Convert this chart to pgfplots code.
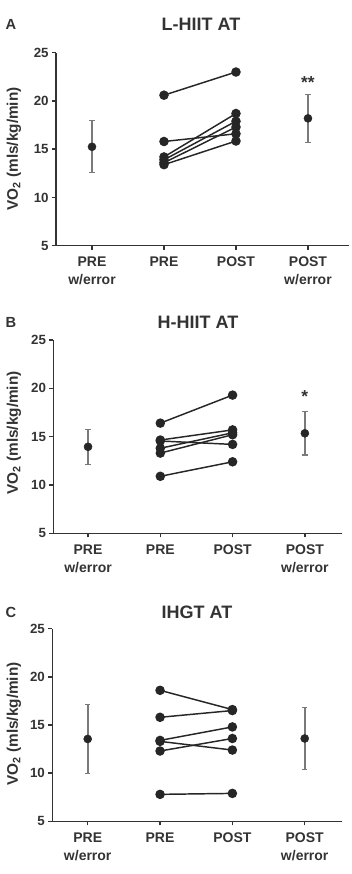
\documentclass[border=0pt]{standalone}
\usepackage{pgfplots}
\pgfplotsset{compat=1.18}
\usepackage{fontspec}
\setmainfont{Liberation Sans}
\definecolor{ink}{HTML}{262626}
\definecolor{axisgray}{HTML}{333333}
\definecolor{errgray}{HTML}{7A7A7A}

\pgfplotsset{
  vo2panel/.style={
    scale only axis,
    anchor=south west,
    axis lines=left,
    axis line style={axisgray, line width=1.1pt, -},
    ymin=5, ymax=25,
    ytick={5,10,15,20,25},
    xtick={0,1,2,3},
    xticklabels={{PRE\\w/error},PRE,POST,{POST\\w/error}},
    tick align=outside,
    major tick length=3pt,
    tick style={axisgray, line width=1.1pt},
    x tick label style={align=center, font=\bfseries\fontsize{10.5}{13.5}\selectfont, text=axisgray, yshift=-2pt},
    y tick label style={font=\bfseries\fontsize{10}{11}\selectfont, text=axisgray, xshift=1pt},
    /pgf/number format/assume math mode=true,
    clip=false,
  },
  pair/.style={ink, line width=1.1pt, mark=*, mark size=3pt, mark options={fill=ink, draw=ink}},
  meanbar/.style={ink, only marks, mark=*, mark size=3pt, mark options={fill=ink, draw=ink},
    error bars/.cd, y dir=both, y explicit,
    error bar style={errgray, line width=1.3pt},
    error mark options={errgray, line width=0.9pt, mark size=2pt, rotate=90}},
}

\begin{document}
\begin{tikzpicture}
% fixed page frame
\path (0pt,0pt) rectangle (264pt,655.5pt);

% ---------- A: L-HIIT ----------
\begin{axis}[vo2panel, at={(42pt,471.2pt)}, width=219.75pt, height=144.75pt, xmin=-0.5, xmax=3.57]
\addplot[meanbar] coordinates {(0,15.25) +- (0,2.7)};
\addplot[meanbar] coordinates {(3,18.2) +- (0,2.5)};
\addplot[pair] coordinates {(1,20.6) (2,23.0)};
\addplot[pair] coordinates {(1,15.8) (2,16.6)};
\addplot[pair] coordinates {(1,14.2) (2,18.7)};
\addplot[pair] coordinates {(1,13.9) (2,17.9)};
\addplot[pair] coordinates {(1,13.6) (2,17.3)};
\addplot[pair] coordinates {(1,13.4) (2,15.85)};
\node[font=\bfseries\fontsize{13}{13}\selectfont, text=axisgray] at (axis cs:3,21.9) {**};
\end{axis}

% ---------- B: H-HIIT ----------
\begin{axis}[vo2panel, at={(40pt,255.5pt)}, width=216.3pt, height=145pt, xmin=-0.48, xmax=3.51]
\addplot[meanbar] coordinates {(0,13.95) +- (0,1.8)};
\addplot[meanbar] coordinates {(3,15.35) +- (0,2.25)};
\addplot[pair] coordinates {(1,16.4) (2,19.3)};
\addplot[pair] coordinates {(1,14.65) (2,15.7)};
\addplot[pair] coordinates {(1,14.55) (2,14.2)};
\addplot[pair] coordinates {(1,13.8) (2,15.4)};
\addplot[pair] coordinates {(1,13.3) (2,15.2)};
\addplot[pair] coordinates {(1,10.9) (2,12.4)};
\node[font=\bfseries\fontsize{13}{13}\selectfont, text=axisgray] at (axis cs:3,19.1) {*};
\end{axis}

% ---------- C: IHGT ----------
\begin{axis}[vo2panel, at={(39.2pt,39.5pt)}, width=217pt, height=144.5pt, xmin=-0.49, xmax=3.51]
\addplot[meanbar] coordinates {(0,13.55) +- (0,3.6)};
\addplot[meanbar] coordinates {(3,13.6) +- (0,3.25)};
\addplot[pair] coordinates {(1,18.6) (2,16.6)};
\addplot[pair] coordinates {(1,15.8) (2,16.5)};
\addplot[pair] coordinates {(1,13.4) (2,14.8)};
\addplot[pair] coordinates {(1,13.3) (2,12.4)};
\addplot[pair] coordinates {(1,12.3) (2,13.6)};
\addplot[pair] coordinates {(1,7.8) (2,7.9)};
\end{axis}

% panel letters, titles and axis labels
\begin{scope}[every node/.style={font=\bfseries, text=axisgray}]
\node[font=\bfseries\fontsize{11}{11}\selectfont] at (8.25pt,637.5pt) {A};
\node[font=\bfseries\fontsize{13.5}{13.5}\selectfont] at (150.75pt,637.5pt) {L-HIIT AT};
\node[font=\bfseries\fontsize{11}{11}\selectfont] at (8.25pt,414pt) {B};
\node[font=\bfseries\fontsize{13.5}{13.5}\selectfont] at (148.5pt,414pt) {H-HIIT AT};
\node[font=\bfseries\fontsize{11}{11}\selectfont] at (8.25pt,196.5pt) {C};
\node[font=\bfseries\fontsize{13.5}{13.5}\selectfont] at (147.75pt,196.5pt) {IHGT AT};
\node[font=\bfseries\fontsize{11.5}{11.5}\selectfont, rotate=90] at (10.5pt,543.75pt) {VO\textsubscript{2} (mls/kg/min)};
\node[font=\bfseries\fontsize{11.5}{11.5}\selectfont, rotate=90] at (10.5pt,330.75pt) {VO\textsubscript{2} (mls/kg/min)};
\node[font=\bfseries\fontsize{11.5}{11.5}\selectfont, rotate=90] at (10.5pt,112.5pt) {VO\textsubscript{2} (mls/kg/min)};
\end{scope}
\end{tikzpicture}
\end{document}
